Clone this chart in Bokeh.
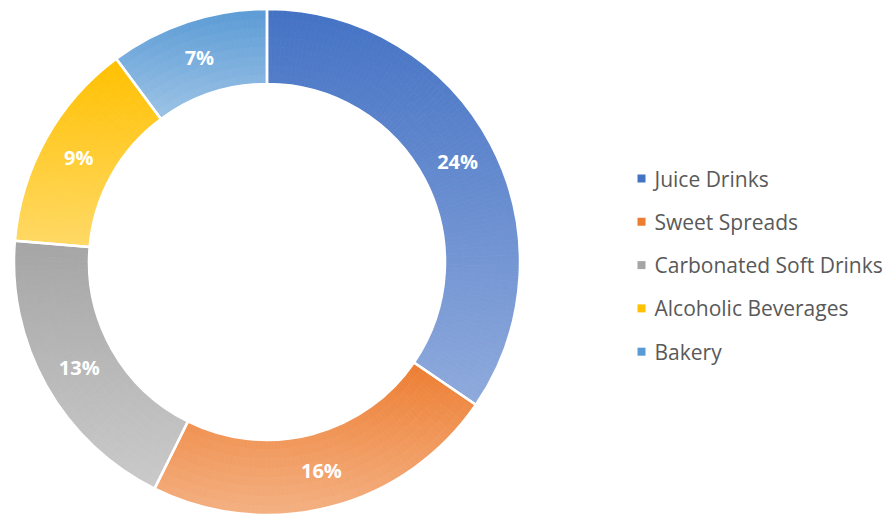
import numpy as np
from bokeh.plotting import figure
from bokeh.models import ColumnDataSource
from bokeh.core.properties import value
from bokeh.embed import file_html
from bokeh.resources import INLINE

# ---- data ----
categories = ["Juice Drinks", "Sweet Spreads", "Carbonated Soft Drinks",
              "Alcoholic Beverages", "Bakery"]
shares = [23.8, 15.7, 13.1, 9.3, 7.0]          # percent (labels show rounded values)
top_colors = ["#4472C4", "#ED7D31", "#A5A5A5", "#FFC000", "#5B9BD5"]
bottom_colors = ["#8FAADC", "#F4B183", "#CACACA", "#FFD966", "#9DC3E6"]

# ---- layout ----
W, H = 888, 515
CX, CY = 266.5, 515 - 261.5
R_OUT, R_IN = 253.0, 178.0
LEG_X, LEG_Y0, LEG_DY = 641.0, 515 - 178.0, 43.3


def hex2rgb(h):
    h = h.lstrip("#")
    return np.array([int(h[i:i + 2], 16) for i in (0, 2, 4)], dtype=float)


def rgb2hex(c):
    c = np.clip(np.round(c), 0, 255).astype(int)
    return "#%02x%02x%02x" % tuple(c)


p = figure(width=W, height=H, x_range=(0, W), y_range=(0, H),
           output_backend="svg", toolbar_location=None,
           x_axis_type=None, y_axis_type=None, min_border=0)
p.outline_line_color = None
p.background_fill_color = "white"
p.border_fill_color = "white"

total = float(sum(shares))
fr = np.array(shares) / total
ends = np.cumsum(fr) * 2 * np.pi          # clockwise from top
starts = ends - fr * 2 * np.pi

# gradient cells (vertical gradient per slice, top colour -> bottom colour)
cx, cy, ri, ro, sa, ea, fc = [], [], [], [], [], [], []
n_r = 8
for i in range(len(shares)):
    t0, t1 = starts[i], ends[i]
    th = np.linspace(t0, t1, 400)
    ys = np.concatenate([CY + R_OUT * np.cos(th), CY + R_IN * np.cos(th)])
    ymax, ymin = ys.max(), ys.min()
    c_top, c_bot = hex2rgb(top_colors[i]), hex2rgb(bottom_colors[i])
    n_a = int(np.ceil(np.degrees(t1 - t0) / 1.2))
    a_edges = np.linspace(t0, t1, n_a + 1)
    r_edges = np.linspace(R_IN, R_OUT, n_r + 1)
    for a in range(n_a):
        for r in range(n_r):
            am = 0.5 * (a_edges[a] + a_edges[a + 1])
            rm = 0.5 * (r_edges[r] + r_edges[r + 1])
            y = CY + rm * np.cos(am)
            t = (ymax - y) / (ymax - ymin)
            col = rgb2hex(c_top + (c_bot - c_top) * t)
            cx.append(CX); cy.append(CY)
            ri.append(r_edges[r]); ro.append(r_edges[r + 1])
            sa.append(np.pi / 2 - a_edges[a + 1]); ea.append(np.pi / 2 - a_edges[a])
            fc.append(col)

cells = ColumnDataSource(dict(x=cx, y=cy, ri=ri, ro=ro, sa=sa, ea=ea, fc=fc))
p.annular_wedge(x="x", y="y", inner_radius="ri", outer_radius="ro",
                start_angle="sa", end_angle="ea", fill_color="fc",
                line_color="fc", line_width=0.8, source=cells)

# white slice outlines
slices = ColumnDataSource(dict(
    x=[CX] * len(shares), y=[CY] * len(shares),
    sa=list(np.pi / 2 - ends), ea=list(np.pi / 2 - starts)))
p.annular_wedge(x="x", y="y", inner_radius=R_IN, outer_radius=R_OUT,
                start_angle="sa", end_angle="ea", fill_color=None,
                line_color="white", line_width=2.5, source=slices)

# percentage labels
mid = 0.5 * (starts + ends)
rl = 0.5 * (R_IN + R_OUT)
labels = ColumnDataSource(dict(
    x=list(CX + rl * np.sin(mid)), y=list(CY + rl * np.cos(mid)),
    t=["%d%%" % round(v) for v in shares]))
p.text(x="x", y="y", text="t", source=labels, text_color="white",
       text_font=value("Open Sans"), text_font_style="bold",
       text_font_size="20px", text_align="center", text_baseline="middle")

# legend
leg = ColumnDataSource(dict(
    x=[LEG_X] * len(categories),
    y=[LEG_Y0 - k * LEG_DY for k in range(len(categories))],
    tx=[LEG_X + 13] * len(categories),
    name=categories, col=top_colors))
p.scatter(x="x", y="y", marker="square", size=8, fill_color="col",
          line_color=None, source=leg)
p.text(x="tx", y="y", text="name", source=leg, text_color="#595959",
       text_font=value("Open Sans"), text_font_size="21px",
       text_align="left", text_baseline="middle")

open("out.html", "w").write(file_html(p, INLINE))
